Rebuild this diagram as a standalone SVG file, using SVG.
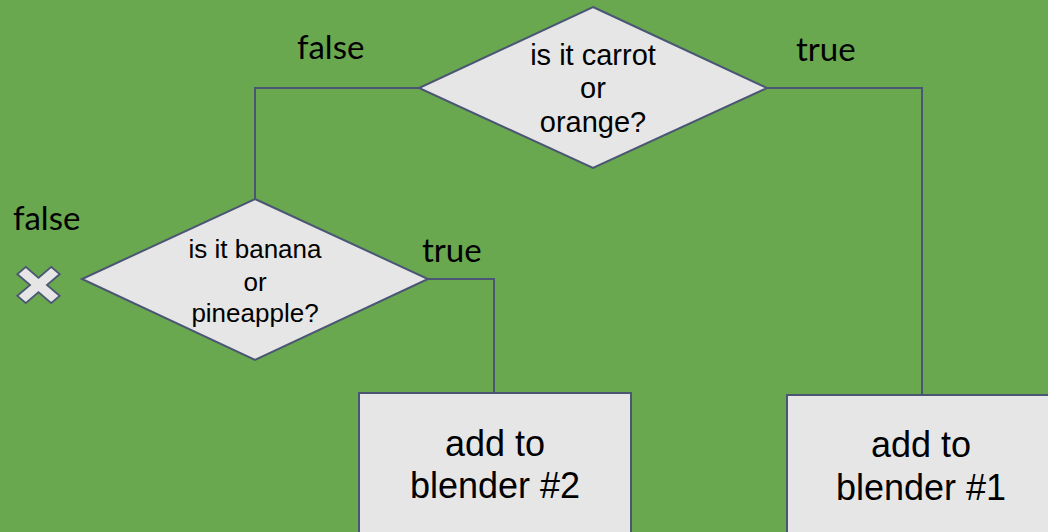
<svg xmlns="http://www.w3.org/2000/svg" width="1048" height="532" viewBox="0 0 1048 532">
  <style>
    .shape { fill: #e6e6e6; stroke: #4a5674; stroke-width: 2; }
    .wire { fill: none; stroke: #4a5674; stroke-width: 2; }
    .q { font-family: "Liberation Sans", Arial, sans-serif; fill: #000; text-anchor: middle; }
    .act { font-family: "Liberation Sans", Arial, sans-serif; font-size: 36px; fill: #000; text-anchor: middle; }
    .lbl { font-family: Lato, "Open Sans", sans-serif; font-size: 33px; fill: #000; }
  </style>

  <!-- background -->
  <rect x="0" y="0" width="1048" height="532" fill="#6aa84f"/>

  <!-- connectors -->
  <g id="connectors">
    <polyline class="wire" points="419,88 255,88 255,199"/>
    <polyline class="wire" points="767,88 922,88 922,395"/>
    <polyline class="wire" points="428,279 494,279 494,393"/>
  </g>

  <!-- branch labels -->
  <g id="labels">
    <text class="lbl" x="297" y="59">false</text>
    <text class="lbl" x="796" y="61">true</text>
    <text class="lbl" x="13" y="230">false</text>
    <text class="lbl" x="422" y="262">true</text>
  </g>

  <g id="decision-carrot">
    <polygon class="shape" points="593,7 767,88 593,168 419,88"/>
    <text class="q" font-size="29" x="593" y="65">is it carrot</text>
    <text class="q" font-size="29" x="593" y="98">or</text>
    <text class="q" font-size="29" x="593" y="132">orange?</text>
  </g>

  <g id="decision-banana">
    <polygon class="shape" points="255,199 428,279 255,360 82,279"/>
    <text class="q" font-size="26" x="255" y="258">is it banana</text>
    <text class="q" font-size="26" x="255" y="291">or</text>
    <text class="q" font-size="26" x="255" y="322">pineapple?</text>
  </g>

  <g id="reject">
    <polygon class="shape" transform="translate(38.5,285) scale(1,0.85) rotate(45)"
             points="-6,-24 6,-24 6,-6 24,-6 24,6 6,6 6,24 -6,24 -6,6 -24,6 -24,-6 -6,-6"/>
  </g>

  <g id="blender-2">
    <rect class="shape" x="359" y="393" width="272" height="160"/>
    <text class="act" x="495" y="456">add to</text>
    <text class="act" x="495" y="498">blender #2</text>
  </g>

  <g id="blender-1">
    <rect class="shape" x="787" y="395" width="274" height="160"/>
    <text class="act" x="921" y="457">add to</text>
    <text class="act" x="921" y="500">blender #1</text>
  </g>
</svg>
